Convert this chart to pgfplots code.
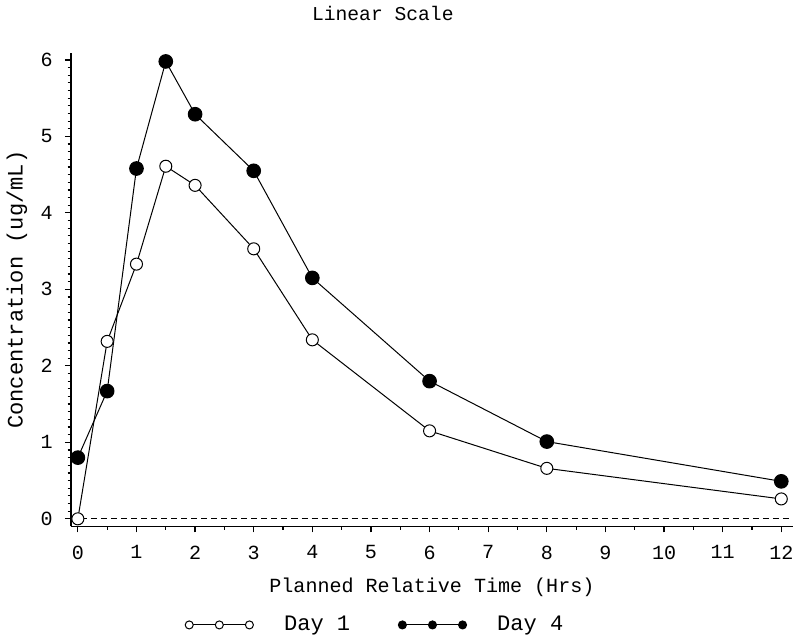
\documentclass[border=0pt]{standalone}
\usepackage{pgfplots}
\pgfplotsset{compat=1.18}
\usepackage{fontspec}
\setmainfont{Liberation Mono}

\pgfplotstableread{
t    c
0    0.00
0.5  2.32
1    3.33
1.5  4.61
2    4.36
3    3.53
4    2.34
6    1.15
8    0.66
12   0.26
}\dayone

\pgfplotstableread{
t    c
0    0.80
0.5  1.67
1    4.58
1.5  5.98
2    5.29
3    4.55
4    3.15
6    1.80
8    1.01
12   0.49
}\dayfour

\begin{document}
\begin{tikzpicture}
\begin{axis}[
scale only axis,
width=360pt,
height=236pt,
axis lines=left,
axis line style={-, line width=0.9pt},
xmin=-0.12, xmax=12.2,
ymin=-0.1, ymax=6.09,
xtick={0,1,...,12},
ytick={0,1,...,6},
minor x tick num=1,
minor y tick num=9,
tick align=outside,
major tick length=3pt,
minor tick length=1.6pt,
tick style={black, line width=0.6pt},
/pgf/number format/assume math mode=true,
tick label style={font=\fontsize{10}{12}\selectfont},
yticklabel style={xshift=-2.5pt},
xticklabel style={yshift=-3pt},
title={Linear Scale},
title style={at={(axis description cs:0.432,1)}, anchor=base, yshift=10pt, font=\fontsize{9.8}{12}\selectfont},
xlabel={Planned Relative Time (Hrs)},
xlabel style={at={(axis description cs:0.5,0)}, anchor=base, yshift=-33pt, font=\fontsize{10}{12}\selectfont},
ylabel={Concentration (ug/mL)},
ylabel style={at={(axis description cs:0,0.5)}, anchor=base, yshift=24pt, font=\fontsize{11}{12}\selectfont},
legend columns=2,
legend style={draw=none, at={(axis description cs:0.423,-0.208)}, anchor=center,
  font=\fontsize{11}{13}\selectfont, /tikz/every even column/.append style={column sep=22pt}},
legend image code/.code={\draw[#1, mark size=2pt, mark repeat=1] plot coordinates {(0pt,0pt) (15pt,0pt) (30pt,0pt)};\path (45pt,0pt);},
clip=false
]
\addplot[densely dashed, thin, black, forget plot] coordinates {(-0.12,0) (12.2,0)};
\addplot[black, line width=0.5pt, mark=*, mark options={fill=white, draw=black, line width=0.5pt}, mark size=3pt] table[x=t, y=c] {\dayone};
\addlegendentry{Day 1}
\addplot[black, line width=0.5pt, mark=*, mark options={fill=black}, mark size=3.4pt] table[x=t, y=c] {\dayfour};
\addlegendentry{Day 4}
\end{axis}
\end{tikzpicture}
\end{document}
